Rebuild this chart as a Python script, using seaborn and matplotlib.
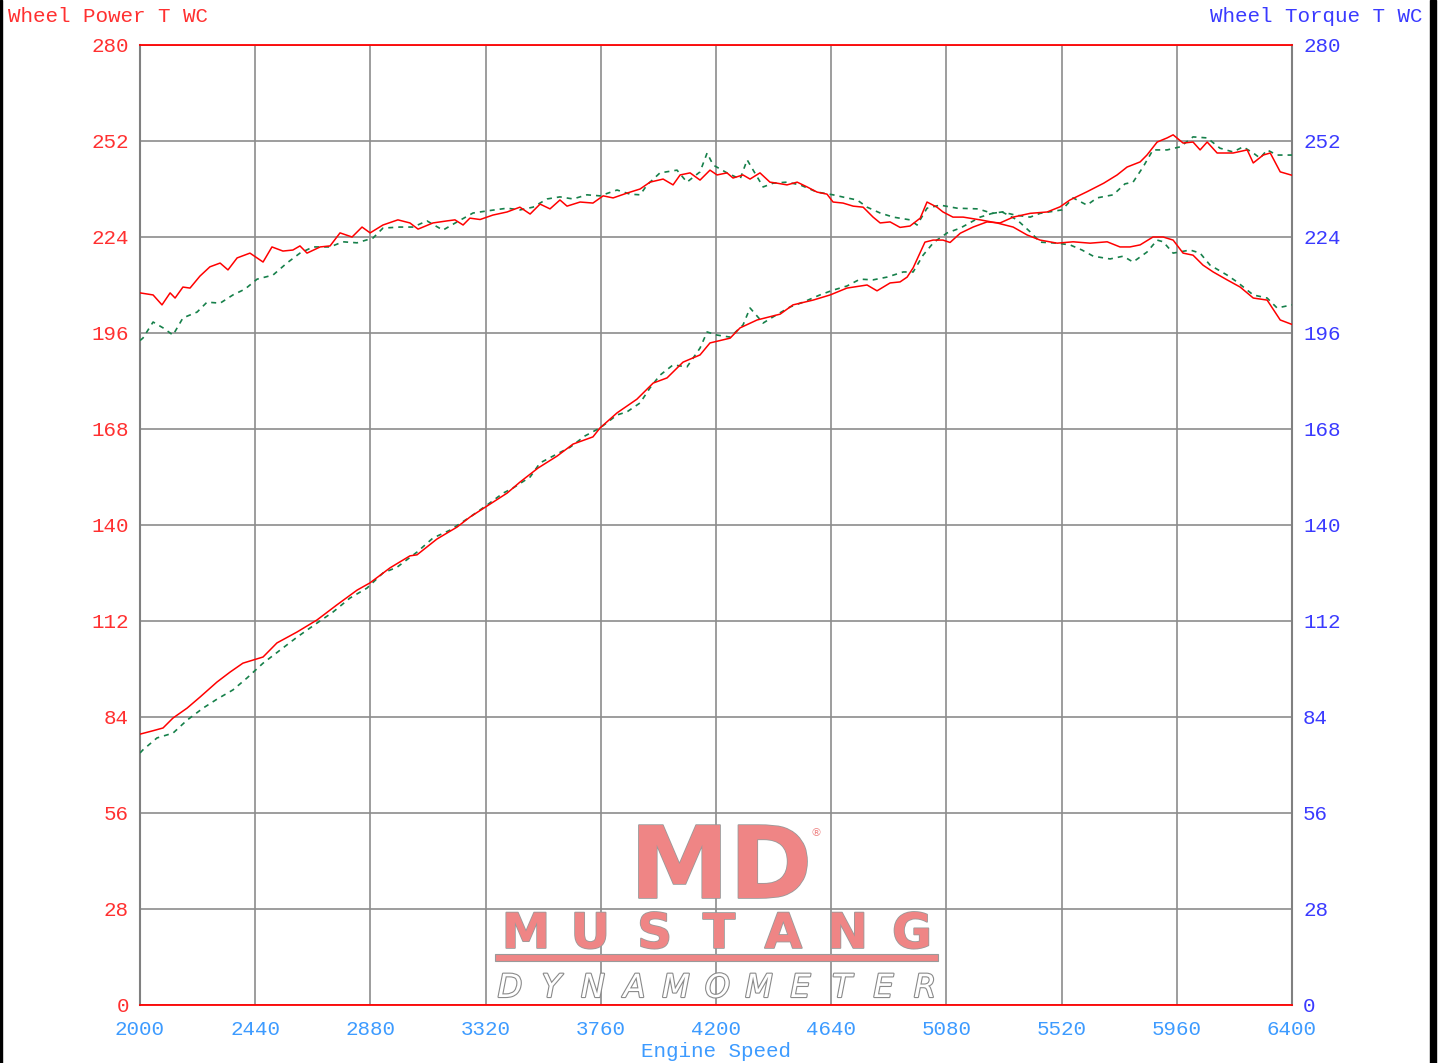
import numpy as np
import pandas as pd
import matplotlib
matplotlib.use('Agg')
import matplotlib.pyplot as plt
import matplotlib.patheffects as pe
from matplotlib.patches import Rectangle
import seaborn as sns

# run 1 (red, solid)
red_power_rpm = [2000, 2050, 2088, 2126, 2180, 2229, 2294, 2344, 2393, 2470, 2523, 2600, 2676, 2752, 2829, 2878,
                 2955, 3031, 3058, 3134, 3211, 3260, 3337, 3402, 3451, 3520, 3593, 3654, 3730, 3757, 3822, 3898,
                 3960, 4013, 4074, 4139, 4177, 4254, 4292, 4357, 4445, 4494, 4571, 4636, 4700, 4777, 4815, 4865,
                 4903, 4930, 4953, 4998, 5029, 5067, 5094, 5133, 5182, 5235, 5285, 5335, 5400, 5465, 5514, 5552,
                 5617, 5681, 5732, 5770, 5820, 5846, 5885, 5923, 5946, 5984, 6022, 6049, 6076, 6114, 6175, 6229,
                 6252, 6290, 6317, 6355, 6400]
red_power = [79.0, 80.0, 80.8, 83.7, 86.6, 89.8, 94.2, 97.1, 99.7, 101.5, 105.6, 108.8, 112.3, 116.7, 121.0, 123.1,
             127.5, 131.0, 131.3, 135.9, 139.4, 142.3, 146.1, 149.3, 152.5, 156.6, 160.1, 163.6, 165.7, 168.3, 172.7, 176.7,
             181.4, 182.9, 187.5, 189.6, 193.1, 194.5, 197.5, 199.8, 201.5, 204.2, 205.6, 207.1, 209.1, 210.0, 208.3, 210.6,
             210.9, 212.3, 215.0, 222.5, 223.1, 223.1, 222.4, 225.1, 226.9, 228.4, 228.1, 229.8, 230.9, 231.3, 232.8, 234.8,
             237.2, 239.7, 242.1, 244.4, 245.9, 247.9, 251.7, 252.9, 253.8, 251.4, 251.7, 249.4, 251.7, 248.5, 248.5, 249.4,
             245.6, 247.9, 248.5, 243.0, 242.0]

red_torque_rpm = [2000, 2050, 2084, 2115, 2134, 2164, 2191, 2229, 2267, 2306, 2336, 2371, 2420, 2470, 2504, 2546,
                  2584, 2611, 2638, 2688, 2726, 2764, 2810, 2848, 2879, 2928, 2985, 3031, 3062, 3119, 3173, 3203,
                  3234, 3260, 3299, 3348, 3402, 3451, 3490, 3528, 3566, 3604, 3631, 3681, 3730, 3769, 3807, 3860,
                  3910, 3948, 3998, 4036, 4063, 4101, 4139, 4177, 4204, 4242, 4265, 4303, 4330, 4368, 4406, 4433,
                  4471, 4510, 4548, 4586, 4624, 4647, 4685, 4724, 4762, 4800, 4827, 4865, 4903, 4941, 4980, 5006,
                  5044, 5067, 5105, 5144, 5209, 5273, 5335, 5388, 5438, 5503, 5564, 5629, 5694, 5743, 5781, 5820,
                  5869, 5908, 5946, 5984, 6022, 6060, 6099, 6152, 6202, 6252, 6305, 6355, 6400]
red_torque = [207.7, 207.1, 204.2, 207.7, 206.2, 209.4, 209.1, 212.6, 215.3, 216.4, 214.4, 217.9, 219.3, 216.7, 221.1, 219.9,
              220.2, 221.4, 219.3, 221.1, 221.4, 225.2, 224.0, 226.9, 225.2, 227.5, 229.0, 228.1, 226.3, 228.1, 228.7, 229.0,
              227.5, 229.5, 229.1, 230.4, 231.3, 232.7, 230.7, 233.6, 232.2, 234.8, 233.0, 234.2, 233.9, 236.0, 235.4, 236.8,
              238.0, 240.0, 240.9, 239.2, 242.1, 242.7, 240.6, 243.5, 242.1, 242.7, 241.2, 242.1, 240.9, 242.7, 240.0, 239.7,
              239.2, 240.0, 238.6, 237.1, 236.5, 234.2, 233.9, 233.0, 232.7, 229.8, 228.1, 228.4, 226.8, 227.2, 229.5, 234.2,
              232.7, 231.3, 229.8, 229.8, 229.0, 228.1, 226.9, 224.6, 223.1, 222.2, 222.6, 222.2, 222.6, 221.1, 221.1, 221.7,
              224.0, 224.0, 223.1, 219.3, 218.7, 215.8, 213.8, 211.5, 209.4, 206.2, 205.6, 199.8, 198.5]

# run 2 (green, dashed)
green_power_rpm = [2000, 2011, 2065, 2126, 2180, 2241, 2294, 2355, 2409, 2470, 2535, 2600, 2676, 2737, 2802, 2867,
                   2928, 2982, 3058, 3119, 3184, 3260, 3325, 3387, 3425, 3490, 3528, 3585, 3643, 3700, 3757, 3822,
                   3860, 3910, 3948, 3986, 4036, 4089, 4139, 4166, 4204, 4254, 4303, 4330, 4380, 4418, 4483, 4533,
                   4597, 4647, 4700, 4750, 4800, 4853, 4915, 4953, 4991, 5031, 5083, 5133, 5209, 5255, 5293, 5343,
                   5400, 5438, 5521, 5564, 5617, 5655, 5717, 5762, 5793, 5831, 5869, 5923, 5973, 6022, 6076, 6125,
                   6175, 6213, 6252, 6278, 6305, 6343, 6400]
green_power = [73.5, 74.4, 77.9, 79.3, 83.1, 86.6, 89.2, 91.9, 95.4, 99.7, 103.5, 107.3, 111.4, 114.6, 118.7, 121.6,
               126.0, 127.7, 132.1, 136.2, 138.5, 142.3, 145.8, 149.3, 150.8, 154.0, 158.1, 160.4, 162.7, 166.0, 168.3, 172.1,
               173.0, 175.6, 180.0, 183.7, 186.7, 186.1, 191.6, 196.3, 195.4, 194.8, 198.3, 203.3, 198.9, 200.7, 203.6, 205.0,
               207.1, 208.5, 209.7, 211.7, 211.5, 212.3, 213.8, 213.8, 218.7, 222.4, 225.2, 226.6, 229.8, 230.9, 231.3, 230.4,
               229.8, 230.9, 231.9, 235.4, 233.3, 235.4, 236.3, 239.5, 240.0, 244.4, 249.4, 249.4, 250.3, 253.2, 252.9, 249.9,
               248.8, 250.3, 248.5, 247.0, 249.4, 247.9, 247.9]

green_torque_rpm = [2000, 2011, 2050, 2088, 2126, 2164, 2218, 2256, 2306, 2355, 2401, 2447, 2508, 2561, 2611, 2661,
                    2726, 2775, 2829, 2890, 2928, 2993, 3043, 3096, 3157, 3211, 3272, 3325, 3402, 3451, 3501, 3555,
                    3604, 3654, 3707, 3757, 3822, 3872, 3910, 3937, 3986, 4051, 4089, 4139, 4166, 4189, 4242, 4292,
                    4319, 4342, 4380, 4418, 4471, 4521, 4586, 4647, 4700, 4739, 4777, 4827, 4877, 4941, 4968, 5006,
                    5056, 5121, 5201, 5255, 5293, 5350, 5400, 5438, 5503, 5552, 5598, 5641, 5705, 5755, 5793, 5846,
                    5885, 5908, 5946, 6011, 6049, 6087, 6152, 6190, 6252, 6305, 6343, 6400]
green_torque = [193.8, 194.5, 199.2, 197.5, 195.4, 200.4, 202.1, 205.0, 204.7, 207.1, 208.8, 211.7, 212.9, 216.4, 219.3, 221.1,
                221.1, 222.6, 222.3, 223.7, 226.6, 226.9, 226.9, 228.7, 226.0, 228.4, 231.0, 231.6, 232.4, 231.9, 232.7, 235.1,
                235.7, 235.1, 236.3, 236.0, 237.7, 236.5, 236.3, 239.2, 242.7, 243.5, 240.0, 243.0, 248.5, 245.0, 242.7, 240.9,
                246.5, 243.5, 238.6, 239.7, 240.0, 239.2, 237.1, 236.3, 235.4, 234.8, 232.7, 231.0, 229.8, 229.0, 227.5, 232.4,
                233.3, 232.4, 232.2, 230.9, 231.3, 229.0, 225.5, 222.5, 222.2, 221.7, 220.2, 218.4, 217.6, 218.4, 216.7, 219.6,
                223.1, 222.6, 219.3, 220.2, 219.3, 215.8, 212.9, 210.9, 207.1, 206.2, 203.3, 204.2]

x_ticks = list(range(2000, 6401, 440))
y_ticks = list(range(0, 281, 28))

W, H = 1439, 1063
RED = '#ff0000'
GREEN = '#16804a'
LEFT_C = '#ff3030'
RIGHT_C = '#3a3aff'
X_C = '#3d9bff'
FS = 15

sns.set_style('white')
plt.rcParams['font.family'] = ['Liberation Mono', 'DejaVu Sans']

fig = plt.figure(figsize=(W / 100, H / 100), dpi=100)
ax = fig.add_axes([140 / W, 1 - 1005 / H, 1152 / W, 960 / H])

dash = (0, (3, 3))
sns.lineplot(x=green_torque_rpm, y=green_torque, color=GREEN, lw=1.2, linestyle=dash, sort=False, ax=ax, zorder=3)
sns.lineplot(x=green_power_rpm, y=green_power, color=GREEN, lw=1.2, linestyle=dash, sort=False, ax=ax, zorder=3)
sns.lineplot(x=red_torque_rpm, y=red_torque, color=RED, lw=1.1, sort=False, ax=ax, zorder=4)
sns.lineplot(x=red_power_rpm, y=red_power, color=RED, lw=1.1, sort=False, ax=ax, zorder=4)

ax.set_xlim(2000, 6400)
ax.set_ylim(0, 280)
ax.set_xticks(x_ticks)
ax.set_yticks(y_ticks)
ax.grid(True, color='#8c8c8c', lw=1.2)
ax.tick_params(axis='x', length=0, pad=11, labelsize=FS, labelcolor=X_C)
ax.tick_params(axis='y', length=0, pad=8, labelsize=FS, labelcolor=LEFT_C)
ax.set_xlabel('Engine Speed', fontsize=FS, color=X_C, labelpad=2)
ax.set_ylabel('')
for side in ['left', 'right']:
    ax.spines[side].set_color('#808080')
    ax.spines[side].set_linewidth(1.5)
for side in ['top', 'bottom']:
    ax.spines[side].set_color(RED)
    ax.spines[side].set_linewidth(1.3)

ax2 = ax.twinx()
ax2.set_ylim(0, 280)
ax2.set_yticks(y_ticks)
ax2.tick_params(axis='y', length=0, pad=8, labelsize=FS, labelcolor=RIGHT_C)
for s in ax2.spines.values():
    s.set_visible(False)

fig.text(8 / W, 1 - 16 / H, 'Wheel Power T WC', color=LEFT_C, fontsize=FS, ha='left', va='center')
fig.text(1423 / W, 1 - 16 / H, 'Wheel Torque T WC', color=RIGHT_C, fontsize=FS, ha='right', va='center')

# logo in the lower middle, drawn beneath the grid
def axpos(px, py):
    return (px - 140) / 1152, (1005 - py) / 960

pink = '#ef8585'
edge = [pe.Stroke(linewidth=1.2, foreground='#9a9a9a'), pe.Normal()]
mx, my = axpos(721, 898)
ax.text(mx, my, 'MD', transform=ax.transAxes, fontsize=72, fontweight='bold', family='DejaVu Sans',
        color=pink, ha='center', va='baseline', zorder=1, path_effects=edge)
rx, ry = axpos(816, 833)
ax.text(rx, ry, '®', transform=ax.transAxes, fontsize=8, color=pink, family='DejaVu Sans',
        ha='center', va='center', zorder=1)
for letter, px in zip('MUSTANG', np.linspace(526, 912, 7)):
    lx, ly = axpos(px, 948)
    ax.text(lx, ly, letter, transform=ax.transAxes, fontsize=35, fontweight='bold', family='DejaVu Sans',
            color=pink, ha='center', va='baseline', zorder=1, path_effects=edge)
bx0, by0 = axpos(495, 961)
bx1, by1 = axpos(938, 954)
ax.add_patch(Rectangle((bx0, by0), bx1 - bx0, by1 - by0, transform=ax.transAxes,
                       facecolor=pink, edgecolor='#9a9a9a', lw=0.8, zorder=1))
for letter, px in zip('DYNAMOMETER', np.linspace(510, 925, 11)):
    lx, ly = axpos(px, 997)
    ax.text(lx, ly, letter, transform=ax.transAxes, fontsize=23, family='DejaVu Sans', style='italic',
            color='white', ha='center', va='baseline', zorder=1,
            path_effects=[pe.Stroke(linewidth=1.6, foreground='#8a8a8a'), pe.Normal()])

# black side edges of the original screenshot
fig.add_artist(Rectangle((0, 0), 2 / W, 1, transform=fig.transFigure, color='black'))
fig.add_artist(Rectangle((1430 / W, 0), 6 / W, 1, transform=fig.transFigure, color='black'))

fig.savefig('out.png', dpi=100, facecolor='white')
